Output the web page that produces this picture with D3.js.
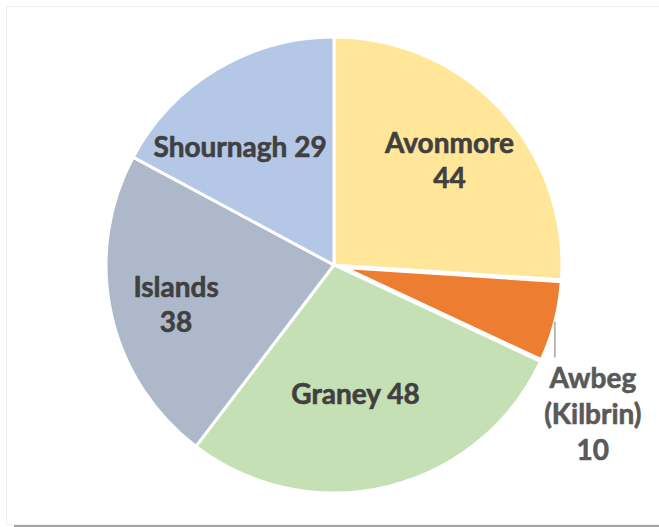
<!DOCTYPE html>
<html>
<head>
<meta charset="utf-8">
<style>
  body { margin: 0; background: #fff; }
  svg { display: block; }
  text { font-family: Lato, "Open Sans", sans-serif; font-weight: 700; }
</style>
<title>Pie</title>
</head>
<body>
<script src="https://cdn.jsdelivr.net/npm/d3@7"></script>
<script>

// chart data
var names   = ["Avonmore", "Awbeg (Kilbrin)", "Graney", "Islands", "Shournagh"];
var values  = [44, 10, 48, 38, 29];
var colours = ["#FFE699", "#ED7D31", "#C5E0B4", "#ADB9CA", "#B4C7E7"];
// how each label is broken into lines
var labelLines = [
	["Avonmore", "44"],
	["Awbeg", "(Kilbrin)", "10"],
	["Graney 48"],
	["Islands", "38"],
	["Shournagh 29"],
];

var width = 659, height = 527;
var cx = 334, cy = 265, radius = 228;
var explode = 10;        // Awbeg slice pulled out
var lineH = 35;
var fontSize = 28;

var svg = d3.select("body").append("svg")
	.attr("width", width)
	.attr("height", height);

// faint chart frame and bottom rule
svg.append("rect")
	.attr("x", 6.5).attr("y", 6.5)
	.attr("width", width).attr("height", 518)
	.attr("fill", "none")
	.attr("stroke", "#f0f0f0");
svg.append("line")
	.attr("x1", 14).attr("x2", width)
	.attr("y1", 526).attr("y2", 526)
	.attr("stroke", "#a6a6a6")
	.attr("stroke-width", 2);

var data = names.map((n, i) => ({name: n, value: values[i], colour: colours[i], lines: labelLines[i]}));

var pie = d3.pie()
	.sort(null)
	.value(d => d.value);

var arcs = pie(data);

function isOut(d) { return d.data.name.startsWith("Awbeg"); }

// exploded slice keeps its outer edge inside the pie circle
var arc = d3.arc()
	.innerRadius(0)
	.outerRadius(d => isOut(d) ? radius - explode : radius);

var g = svg.append("g")
	.attr("transform", `translate(${cx},${cy})`);

function mid(d) { return (d.startAngle + d.endAngle) / 2; }
function shift(d) {
	if (isOut(d)) {
		let a = mid(d);
		return [explode * Math.sin(a), -explode * Math.cos(a)];
	}
	return [0, 0];
}

g.selectAll("path")
	.data(arcs)
	.join("path")
	.attr("d", arc)
	.attr("transform", d => `translate(${shift(d)})`)
	.attr("fill", d => d.data.colour)
	.attr("stroke", "#fff")
	.attr("stroke-width", 3)
	.attr("stroke-linejoin", "round");

// label placement: radius as fraction of pie radius, angle nudge in degrees
var labelPos = {
	"Avonmore":  {frac: 0.683, nudge: 1.0},
	"Graney":    {frac: 0.574, nudge: 4.4},
	"Islands":   {frac: 0.714, nudge: -1.8},
	"Shournagh": {frac: 0.662, nudge: -7.6},
};

arcs.forEach(function(d) {
	let key = d.data.name;
	let a = mid(d);
	let x, y, fill = "#404040", lh = lineH;
	if (isOut(d)) {
		// outside label with leader line from the slice edge
		let [sx, sy] = shift(d);
		let r = radius - explode;
		let ex = sx + r * Math.sin(a), ey = sy - r * Math.cos(a);
		x = ex + 38;
		y = ey + 92;
		fill = "#595959";
		lh = 36;
		g.append("line")
			.attr("x1", ex).attr("x2", ex)
			.attr("y1", ey).attr("y2", ey + 36)
			.attr("stroke", "#a6a6a6")
			.attr("stroke-width", 1.5);
	} else {
		let p = labelPos[key];
		let r = radius * p.frac;
		let b = a + p.nudge * Math.PI / 180;
		x = r * Math.sin(b);
		y = -r * Math.cos(b);
	}
	let n = d.data.lines.length;
	let t = g.append("text")
		.attr("text-anchor", "middle")
		.attr("fill", fill)
		.attr("stroke", fill)
		.attr("stroke-width", 0.6)
		.attr("font-size", fontSize);
	d.data.lines.forEach(function(s, i) {
		t.append("tspan")
			.attr("x", x)
			.attr("y", y + (i - (n - 1) / 2) * lh + 10)
			.text(s);
	});
});

</script>
</body>
</html>
